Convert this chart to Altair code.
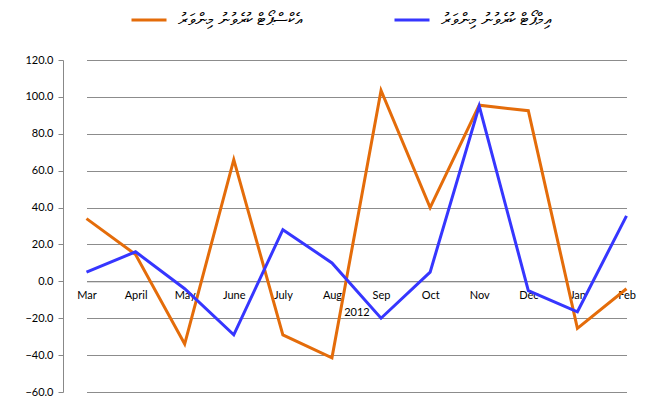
import altair as alt
import pandas as pd

months = ["Mar", "April", "May", "June", "July", "Aug", "Sep", "Oct", "Nov", "Dec", "Jan", "Feb"]
export_vals = [34.0, 14.5, -34.0, 66.0, -29.0, -41.5, 103.5, 40.0, 95.5, 92.5, -25.5, -4.0]
import_vals = [5.0, 16.0, -4.0, -29.0, 28.0, 10.0, -20.0, 5.0, 95.0, -5.0, -16.5, 35.5]
series_names = ["އެކްސްޕޯޓް ކުރެވުނު މިންވަރު", "އިމްޕޯޓް ކުރެވުނު މިންވަރު"]
series_colors = ["#E46C0A", "#3636FF"]
y_ticks = [-60, -40, -20, 0, 20, 40, 60, 80, 100, 120]
year_label = "2012"

rows = []
for m, v in zip(months, export_vals):
    rows.append({"month": m, "value": v, "series": series_names[0]})
for m, v in zip(months, import_vals):
    rows.append({"month": m, "value": v, "series": series_names[1]})
df = pd.DataFrame(rows)

font = "Lato"

chart = alt.Chart(df).mark_line(strokeWidth=3).encode(
    x=alt.X("month:N", sort=months,
            scale=alt.Scale(type="point", padding=0, range=[23.5, 563.5]),
            axis=alt.Axis(title=year_label, offset=-110.7, labelAngle=0, ticks=False,
                          domainColor="#888888", labelPadding=8, labelFontSize=11,
                          labelFont=font, labelColor="#000000", titleFont=font,
                          titleFontSize=11, titleFontWeight="normal", titleColor="#000000",
                          titlePadding=6, titleX=293.5, grid=False, labelOverlap=False)),
    y=alt.Y("value:Q",
            scale=alt.Scale(domain=[-60, 120], nice=False),
            axis=alt.Axis(title=None, values=y_ticks, format=".1f", domainColor="#888888",
                          tickColor="#888888", tickSize=5, gridColor="#8C8C8C",
                          labelFont=font, labelFontSize=11, labelColor="#000000",
                          labelPadding=5)),
    color=alt.Color("series:N", sort=series_names,
                    scale=alt.Scale(domain=series_names, range=series_colors),
                    legend=alt.Legend(title=None, orient="none", direction="horizontal",
                                      legendX=67, legendY=-59, symbolType="stroke",
                                      symbolSize=1225, symbolStrokeWidth=3,
                                      labelFontSize=17, labelOffset=10,
                                      columnPadding=85, labelColor="#000000",
                                      labelLimit=300)),
).properties(
    width=581, height=332,
    autosize=alt.AutoSizeParams(type="none"),
    padding={"left": 55, "top": 52, "right": 0, "bottom": 4},
).configure_view(stroke=None).configure_axis(gridWidth=1, domainWidth=1)

chart.save("out.html", embed_options={"renderer": "svg", "actions": False})
